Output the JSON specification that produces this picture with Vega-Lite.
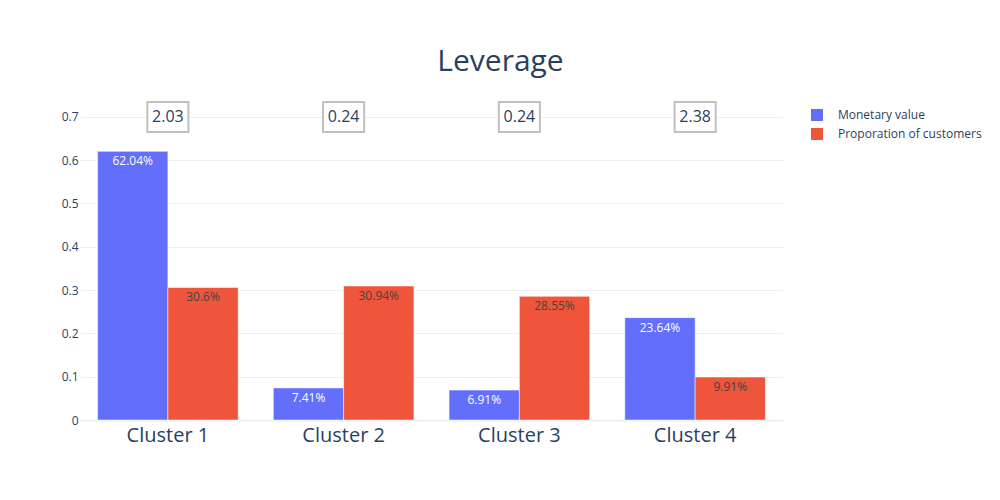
{
  "$schema": "https://vega.github.io/schema/vega-lite/v6.json",
  "autosize": {"type": "none"},
  "padding": {"left": 80, "top": 100, "right": 217, "bottom": 80},
  "width": 703,
  "height": 320,
  "background": "white",
  "config": {
    "font": "Open Sans",
    "view": {"stroke": null},
    "axis": {"labelFont": "Open Sans", "labelColor": "#2a3f5f"}
  },
  "title": {
    "text": "Leverage",
    "fontSize": 30,
    "font": "Open Sans",
    "fontWeight": "normal",
    "color": "#2a3f5f",
    "anchor": "middle",
    "dx": 69,
    "offset": 21
  },
  "datasets": {
    "bars": [
      {"cluster": "Cluster 1", "series": "Monetary value", "value": 0.6204},
      {"cluster": "Cluster 1", "series": "Proporation of customers", "value": 0.306},
      {"cluster": "Cluster 2", "series": "Monetary value", "value": 0.0741},
      {"cluster": "Cluster 2", "series": "Proporation of customers", "value": 0.3094},
      {"cluster": "Cluster 3", "series": "Monetary value", "value": 0.0691},
      {"cluster": "Cluster 3", "series": "Proporation of customers", "value": 0.2855},
      {"cluster": "Cluster 4", "series": "Monetary value", "value": 0.2364},
      {"cluster": "Cluster 4", "series": "Proporation of customers", "value": 0.0991}
    ],
    "notes": [
      {"cluster": "Cluster 1", "y": 0.7, "label": "2.03"},
      {"cluster": "Cluster 2", "y": 0.7, "label": "0.24"},
      {"cluster": "Cluster 3", "y": 0.7, "label": "0.24"},
      {"cluster": "Cluster 4", "y": 0.7, "label": "2.38"}
    ]
  },
  "encoding": {
    "x": {
      "field": "cluster",
      "type": "nominal",
      "sort": null,
      "scale": {"paddingInner": 0.2, "paddingOuter": 0.1},
      "axis": {
        "title": null,
        "labelAngle": 0,
        "labelFontSize": 20,
        "labelPadding": 5,
        "ticks": false,
        "domainColor": "#EBF0F8",
        "domainWidth": 2
      }
    },
    "y": {
      "type": "quantitative",
      "scale": {"domain": [0, 0.739], "nice": false, "zero": true},
      "axis": {
        "title": null,
        "values": [0, 0.1, 0.2, 0.3, 0.4, 0.5, 0.6, 0.7],
        "format": "~g",
        "labelFontSize": 12,
        "labelPadding": 2,
        "ticks": false,
        "domain": false,
        "gridColor": "#EBF0F8",
        "gridWidth": 1
      }
    }
  },
  "layer": [
    {
      "data": {"name": "bars"},
      "mark": {"type": "bar", "stroke": "white", "strokeWidth": 0.5},
      "encoding": {
        "y": {"field": "value"},
        "xOffset": {"field": "series", "type": "nominal", "scale": {"paddingInner": 0, "paddingOuter": 0}},
        "color": {
          "field": "series",
          "type": "nominal",
          "scale": {"domain": ["Monetary value", "Proporation of customers"], "range": ["#636efa", "#EF553B"]},
          "legend": {
            "title": null,
            "orient": "none",
            "legendX": 731,
            "legendY": 9,
            "padding": 0,
            "symbolType": "square",
            "symbolSize": 144,
            "symbolStrokeWidth": 0,
            "labelFont": "Open Sans",
            "labelFontSize": 12,
            "labelColor": "#2a3f5f",
            "labelOffset": 15,
            "rowPadding": 7
          }
        }
      }
    },
    {
      "data": {"name": "bars"},
      "mark": {"type": "text", "baseline": "top", "dy": 5, "fontSize": 12, "font": "Open Sans"},
      "encoding": {
        "y": {"field": "value"},
        "xOffset": {"field": "series", "type": "nominal"},
        "text": {"field": "value", "type": "quantitative", "format": ".2~%"},
        "color": {
          "condition": {"test": "datum.series === 'Monetary value'", "value": "white"},
          "value": "#444444"
        }
      }
    },
    {
      "data": {"name": "notes"},
      "mark": {
        "type": "point",
        "shape": "M-1.37,-1H1.37V1H-1.37Z",
        "size": 900,
        "filled": true,
        "fill": "white",
        "stroke": "#c0c0c0",
        "strokeWidth": 2,
        "opacity": 1
      },
      "encoding": {
        "y": {"field": "y"}
      }
    },
    {
      "data": {"name": "notes"},
      "mark": {"type": "text", "fontSize": 16, "font": "Open Sans", "color": "#2a3f5f", "baseline": "middle"},
      "encoding": {
        "y": {"field": "y"},
        "text": {"field": "label", "type": "nominal"}
      }
    }
  ]
}
